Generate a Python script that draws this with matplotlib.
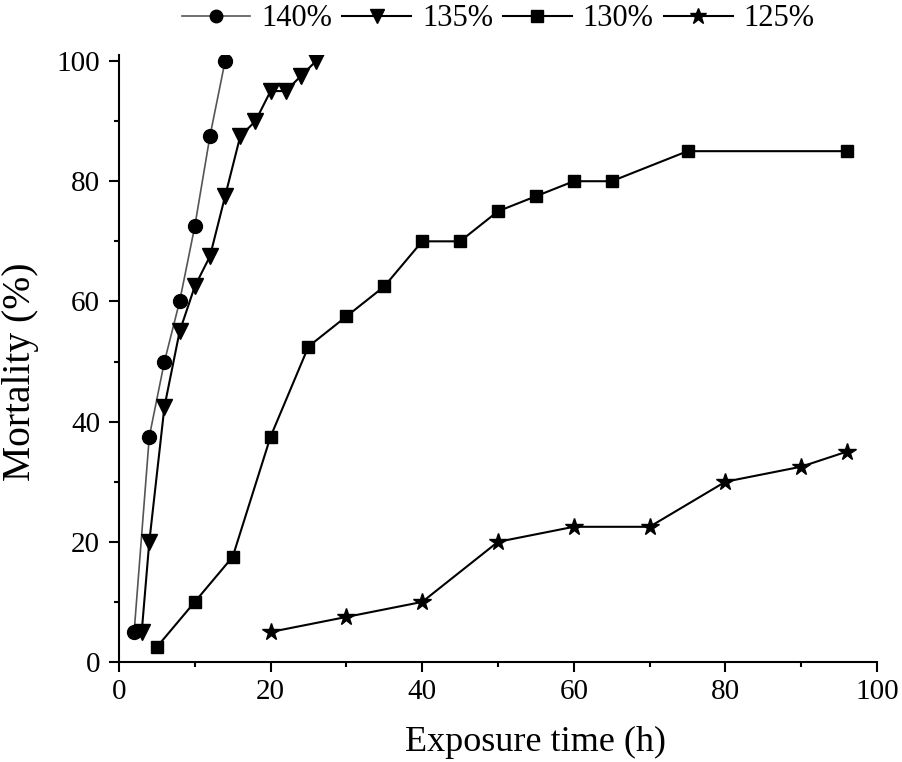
import numpy as np
import matplotlib
matplotlib.use('Agg')
import matplotlib.pyplot as plt
from matplotlib.ticker import MultipleLocator

plt.rcParams['font.family'] = ['Liberation Serif', 'DejaVu Serif']

# data
x140 = [2, 4, 6, 8, 10, 12, 14]
y140 = [5, 37.5, 50, 60, 72.5, 87.5, 100]

x135 = [3, 4, 6, 8, 10, 12, 14, 16, 18, 20, 22, 24, 26]
y135 = [5, 20, 42.5, 55, 62.5, 67.5, 77.5, 87.5, 90, 95, 95, 97.5, 100]

x130 = [5, 10, 15, 20, 25, 30, 35, 40, 45, 50, 55, 60, 65, 75, 96]
y130 = [2.5, 10, 17.5, 37.5, 52.5, 57.5, 62.5, 70, 70, 75, 77.5, 80, 80, 85, 85]

x125 = [20, 30, 40, 50, 60, 70, 80, 90, 96]
y125 = [5, 7.5, 10, 20, 22.5, 22.5, 30, 32.5, 35]

fig = plt.figure(figsize=(9.02, 7.62), dpi=100)
ax = fig.add_axes([0.1319, 0.1312, 0.8404, 0.7966])

ax.plot(x140, y140, color='#555555', lw=1.2, marker='o', ms=10,
        mfc='black', mec='black', label='140%')
ax.plot(x135, y135, color='black', lw=1.5, marker='v', ms=11, label='135%')
ax.plot(x130, y130, color='black', lw=1.5, marker='s', ms=9, label='130%')
ax.plot(x125, y125, color='black', lw=1.5, marker='*', ms=13, label='125%')

ax.set_xlim(0, 100)
ax.set_ylim(0, 101)
ax.xaxis.set_major_locator(MultipleLocator(20))
ax.xaxis.set_minor_locator(MultipleLocator(10))
ax.yaxis.set_major_locator(MultipleLocator(20))
ax.yaxis.set_minor_locator(MultipleLocator(10))
ax.tick_params(which='both', direction='out', width=1.5, labelsize=21)
ax.tick_params(which='major', length=7.5)
ax.tick_params(which='minor', length=3.5)
ax.tick_params(axis='x', which='major', pad=5)
ax.tick_params(axis='y', which='major', pad=6)
for s in ['top', 'right']:
    ax.spines[s].set_visible(False)
for s in ['left', 'bottom']:
    ax.spines[s].set_linewidth(1.5)

ax.set_xlabel('Exposure time (h)', fontsize=26)
ax.xaxis.set_label_coords(0.549, -0.105)
ax.set_ylabel('Mortality (%)', fontsize=28.5)
ax.yaxis.set_label_coords(-0.106, 0.478)

ax.legend(loc='center', ncol=4, frameon=False, fontsize=22, handlelength=2.25,
          handletextpad=0.36, columnspacing=0.33, borderaxespad=0, borderpad=0,
          markerscale=0.9)
leg = ax.get_legend()
leg.set_bbox_to_anchor((498 / 902, 1 - 19 / 762), transform=fig.transFigure)

fig.savefig('out.png', dpi=100)
